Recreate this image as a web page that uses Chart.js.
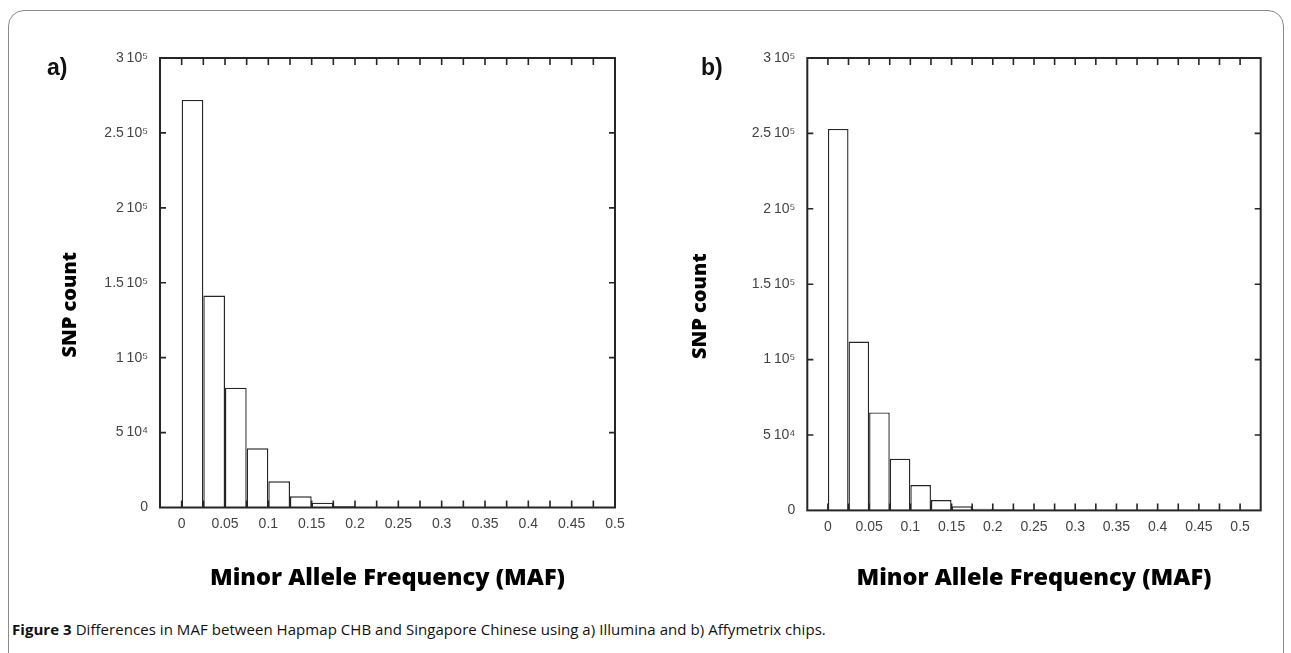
<!DOCTYPE html>
<html><head><meta charset="utf-8">
<script src="https://cdn.jsdelivr.net/npm/chart.js@4/dist/chart.umd.min.js"></script>
<style>
html,body{margin:0;padding:0;background:#fff;width:1291px;height:653px;overflow:hidden;}
#frame{position:absolute;left:8px;top:10px;width:1274px;height:720px;border:1px solid #8a8a8a;border-radius:16px;}
.wrap{position:absolute;top:0;height:600px;}
#w1{left:0;width:645px;} #w2{left:645px;width:646px;}
.panel{position:absolute;top:54px;font-family:"Liberation Sans",Arial,sans-serif;font-weight:bold;font-size:23px;color:#111;}
#caption{position:absolute;left:12px;top:619px;font-family:"Open Sans",sans-serif;font-size:15px;color:#111;white-space:nowrap;letter-spacing:0.05px;}
</style></head><body>
<div id="frame"></div>
<div class="wrap" id="w1"><canvas id="c1" width="645" height="600"></canvas></div>
<div class="wrap" id="w2"><canvas id="c2" width="646" height="600"></canvas></div>
<div class="panel" style="left:47px">a)</div>
<div class="panel" style="left:701px">b)</div>
<div id="caption"><b>Figure 3</b> Differences in MAF between Hapmap CHB and Singapore Chinese using a) Illumina and b) Affymetrix chips.</div>
<script>
// ---- data ----
const binStartsA = [0, 0.025, 0.05, 0.075, 0.1, 0.125, 0.15, 0.175];
const countsA    = [272000, 141500, 80000, 39500, 17500, 7500, 3200, 1000];
const binStartsB = [0, 0.025, 0.05, 0.075, 0.1, 0.125, 0.15, 0.175, 0.2];
const countsB    = [253000, 112000, 65000, 34300, 16800, 6900, 2700, 1100, 800];
const binWidth = 0.025;
const xTickValues = [0, 0.05, 0.1, 0.15, 0.2, 0.25, 0.3, 0.35, 0.4, 0.45, 0.5];
const xTickLabels = ['0','0.05','0.1','0.15','0.2','0.25','0.3','0.35','0.4','0.45','0.5'];
const xMinorTicks = [0,0.025,0.05,0.075,0.1,0.125,0.15,0.175,0.2,0.225,0.25,0.275,0.3,0.325,0.35,0.375,0.4,0.425,0.45,0.475,0.5];
const yTickValues = [0, 50000, 100000, 150000, 200000, 250000, 300000];
const yTickLabels = ['0', '5\u200910\u2074', '1\u200910\u2075', '1.5\u200910\u2075', '2\u200910\u2075', '2.5\u200910\u2075', '3\u200910\u2075'];
const xTitle = 'Minor Allele Frequency (MAF)';
const yTitle = 'SNP count';

const LINE = '#262626';
const TITLE_FONT = '800 20px "Open Sans", sans-serif';

const frameTicks = {
  id: 'frameTicks',
  afterDatasetsDraw(chart, args, opts) {
    const {ctx, chartArea: a, scales: {x, y}} = chart;
    ctx.save();
    ctx.strokeStyle = LINE;
    ctx.lineWidth = 1.6;
    ctx.beginPath();
    xMinorTicks.forEach(v => {
      const px = x.getPixelForValue(v);
      if (px <= a.left + 1 || px >= a.right - 1) return;
      ctx.moveTo(px, a.top); ctx.lineTo(px, a.top + 7);
      ctx.moveTo(px, a.bottom); ctx.lineTo(px, a.bottom - 7);
    });
    yTickValues.forEach(v => {
      const py = y.getPixelForValue(v);
      if (py <= a.top + 1 || py >= a.bottom - 1) return;
      ctx.moveTo(a.left, py); ctx.lineTo(a.left + 6, py);
      ctx.moveTo(a.right, py); ctx.lineTo(a.right - 6, py);
    });
    ctx.stroke();
    ctx.lineWidth = 2;
    ctx.strokeRect(a.left, a.top, a.right - a.left, a.bottom - a.top);
    // rotated y-axis title
    ctx.translate(opts.titleX, (a.top + a.bottom) / 2 + opts.titleShift);
    ctx.rotate(-Math.PI / 2);
    ctx.font = TITLE_FONT;
    ctx.fillStyle = '#000';
    ctx.textAlign = 'center';
    ctx.textBaseline = 'middle';
    ctx.fillText(yTitle, 0, 0);
    ctx.restore();
  }
};

function makeChart(id, starts, counts, xMax, g) {
  const data = starts.map((s, i) => ({x: s + binWidth / 2, y: counts[i]}));
  return new Chart(document.getElementById(id), {
    type: 'bar',
    data: {datasets: [{
      data,
      backgroundColor: '#ffffff',
      borderColor: LINE,
      borderWidth: 1.4,
      barPercentage: 1,
      categoryPercentage: 1,
      inflateAmount: 0
    }]},
    options: {
      responsive: false,
      animation: false,
      events: [],
      layout: {padding: {left: 0, top: g.top, right: g.right, bottom: 0}},
      plugins: {legend: {display: false}, tooltip: {enabled: false},
        frameTicks: {titleX: g.ytx, titleShift: 22}},
      scales: {
        x: {
          type: 'linear', offset: false, min: -0.025, max: xMax,
          afterBuildTicks: s => { s.ticks = xTickValues.map(v => ({value: v})); },
          afterFit: s => { s.height = g.xh; },
          grid: {display: false, drawTicks: false},
          border: {display: false},
          ticks: {
            autoSkip: false, maxRotation: 0, padding: 8, color: '#444',
            font: {family: 'Liberation Sans', size: 14},
            callback: v => xTickLabels[xTickValues.indexOf(v)]
          },
          title: {display: true, text: xTitle, color: '#000',
            font: {family: 'Open Sans', size: 23.5, weight: '800'},
            padding: {top: 0, bottom: 8}}
        },
        y: {
          type: 'linear', min: 0, max: 300000,
          afterBuildTicks: s => { s.ticks = yTickValues.map(v => ({value: v})); },
          afterFit: s => { s.width = g.yw; },
          grid: {display: false, drawTicks: false},
          border: {display: false},
          ticks: {
            autoSkip: false, padding: 12, color: '#444',
            font: {family: 'Liberation Sans', size: 14},
            callback: v => yTickLabels[yTickValues.indexOf(v)]
          },
          title: {display: false}
        }
      }
    },
    plugins: [frameTicks]
  });
}

makeChart('c1', binStartsA, countsA, 0.5,   {top: 58, right: 30,   xh: 92.5, yw: 160,   ytx: 70});
makeChart('c2', binStartsB, countsB, 0.525, {top: 58, right: 30.3, xh: 89.6, yw: 162.3, ytx: 55});
</script>
</body></html>
